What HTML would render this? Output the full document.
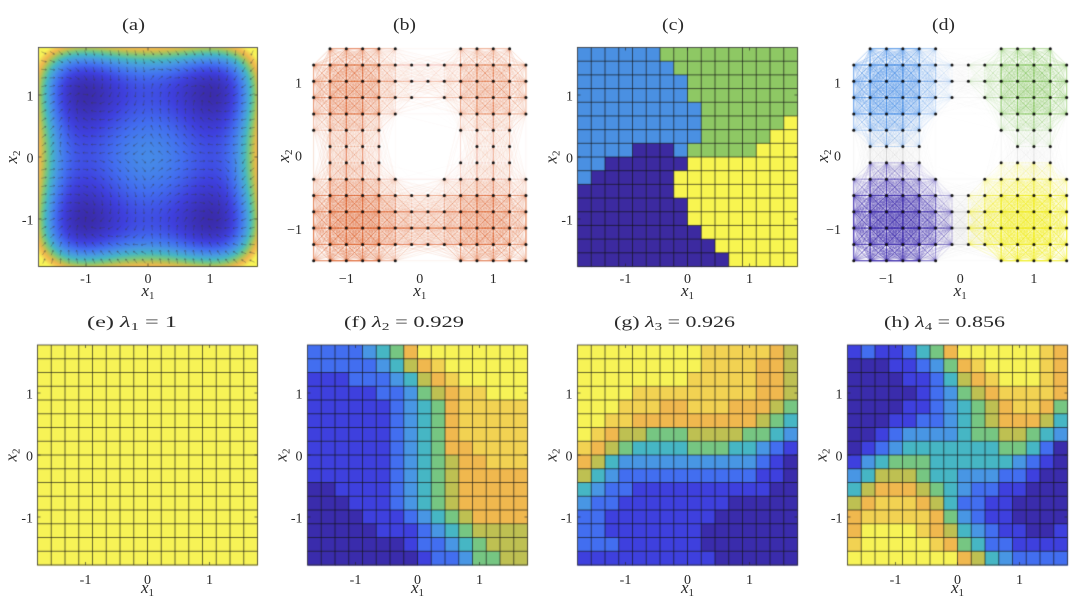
<!DOCTYPE html>
<html><head><meta charset="utf-8">
<style>
html,body{margin:0;padding:0;background:#fff;}
#wrap{position:relative;width:1080px;height:606px;overflow:hidden;background:#fff;}
canvas,svg{position:absolute;left:0;top:0;}
text{font-family:"Liberation Serif",serif;fill:#2a2a2a;}
</style></head><body>
<div id="wrap">
<canvas id="cv" width="1080" height="606"></canvas>
<svg width="1080" height="606" viewBox="0 0 1080 606">
<!-- top titles -->
<text x="122" y="30" font-size="17" textLength="23" lengthAdjust="spacingAndGlyphs">(a)</text>
<text x="393" y="30" font-size="17" textLength="23" lengthAdjust="spacingAndGlyphs">(b)</text>
<text x="662" y="30" font-size="17" textLength="22" lengthAdjust="spacingAndGlyphs">(c)</text>
<text x="932" y="30" font-size="17" textLength="23" lengthAdjust="spacingAndGlyphs">(d)</text>
<!-- bottom titles -->
<text x="87" y="327" font-size="16" textLength="90" lengthAdjust="spacingAndGlyphs">(e) <tspan font-style="italic">λ</tspan><tspan font-size="11" dy="3">1</tspan><tspan dy="-3"> = 1</tspan></text>
<text x="344" y="327" font-size="16" textLength="120" lengthAdjust="spacingAndGlyphs">(f) <tspan font-style="italic">λ</tspan><tspan font-size="11" dy="3">2</tspan><tspan dy="-3"> = 0.929</tspan></text>
<text x="614" y="327" font-size="16" textLength="121" lengthAdjust="spacingAndGlyphs">(g) <tspan font-style="italic">λ</tspan><tspan font-size="11" dy="3">3</tspan><tspan dy="-3"> = 0.926</tspan></text>
<text x="884" y="327" font-size="16" textLength="121" lengthAdjust="spacingAndGlyphs">(h) <tspan font-style="italic">λ</tspan><tspan font-size="11" dy="3">4</tspan><tspan dy="-3"> = 0.856</tspan></text>

<g font-size="14" text-anchor="middle">
<text x="86" y="283">-1</text><text x="148" y="283">0</text><text x="210" y="283">1</text>
<text x="346.3" y="283">−1</text><text x="419.8" y="283">0</text><text x="493.3" y="283">1</text>
<text x="625.5" y="283">-1</text><text x="687.5" y="283">0</text><text x="749.5" y="283">1</text>
<text x="886.5" y="283">−1</text><text x="960.2" y="283">0</text><text x="1033.9" y="283">1</text>
<text x="85.5" y="584">-1</text><text x="147.5" y="584">0</text><text x="209.5" y="584">1</text>
<text x="355.5" y="584">-1</text><text x="417.5" y="584">0</text><text x="479.5" y="584">1</text>
<text x="625.5" y="584">-1</text><text x="687.5" y="584">0</text><text x="749.5" y="584">1</text>
<text x="895.5" y="584">-1</text><text x="957.5" y="584">0</text><text x="1019.5" y="584">1</text>
</g>
<g font-size="14" text-anchor="end">
<text x="33.5" y="100.5">1</text><text x="33.5" y="162.5">0</text><text x="33.5" y="224.5">-1</text>
<text x="302" y="87.5">1</text><text x="302" y="160.5">0</text><text x="302" y="234">−1</text>
<text x="573" y="100.5">1</text><text x="573" y="162.5">0</text><text x="573" y="224.5">-1</text>
<text x="841" y="87.5">1</text><text x="841" y="160.5">0</text><text x="841" y="234">−1</text>
<text x="33" y="398.5">1</text><text x="33" y="460.5">0</text><text x="33" y="522.5">-1</text>
<text x="302.5" y="398.5">1</text><text x="302.5" y="460.5">0</text><text x="302.5" y="522.5">-1</text>
<text x="572.5" y="398.5">1</text><text x="572.5" y="460.5">0</text><text x="572.5" y="522.5">-1</text>
<text x="842.5" y="398.5">1</text><text x="842.5" y="460.5">0</text><text x="842.5" y="522.5">-1</text>
</g>
<g font-size="17" text-anchor="middle">
<text x="148" y="296"><tspan font-style="italic">x</tspan><tspan font-size="11" dy="3">1</tspan></text>
<text x="419.8" y="296"><tspan font-style="italic">x</tspan><tspan font-size="11" dy="3">1</tspan></text>
<text x="687.5" y="296"><tspan font-style="italic">x</tspan><tspan font-size="11" dy="3">1</tspan></text>
<text x="960.2" y="296"><tspan font-style="italic">x</tspan><tspan font-size="11" dy="3">1</tspan></text>
<text x="147.5" y="593"><tspan font-style="italic">x</tspan><tspan font-size="11" dy="3">1</tspan></text>
<text x="417.5" y="593"><tspan font-style="italic">x</tspan><tspan font-size="11" dy="3">1</tspan></text>
<text x="687.5" y="593"><tspan font-style="italic">x</tspan><tspan font-size="11" dy="3">1</tspan></text>
<text x="957.5" y="593"><tspan font-style="italic">x</tspan><tspan font-size="11" dy="3">1</tspan></text>
<text transform="translate(17,157) rotate(-90)"><tspan font-style="italic">x</tspan><tspan font-size="11" dy="3">2</tspan></text>
<text transform="translate(289,156) rotate(-90)"><tspan font-style="italic">x</tspan><tspan font-size="11" dy="3">2</tspan></text>
<text transform="translate(556.5,157) rotate(-90)"><tspan font-style="italic">x</tspan><tspan font-size="11" dy="3">2</tspan></text>
<text transform="translate(828,156) rotate(-90)"><tspan font-style="italic">x</tspan><tspan font-size="11" dy="3">2</tspan></text>
<text transform="translate(16.5,455) rotate(-90)"><tspan font-style="italic">x</tspan><tspan font-size="11" dy="3">2</tspan></text>
<text transform="translate(286.5,455) rotate(-90)"><tspan font-style="italic">x</tspan><tspan font-size="11" dy="3">2</tspan></text>
<text transform="translate(556.5,455) rotate(-90)"><tspan font-style="italic">x</tspan><tspan font-size="11" dy="3">2</tspan></text>
<text transform="translate(826.5,455) rotate(-90)"><tspan font-style="italic">x</tspan><tspan font-size="11" dy="3">2</tspan></text>
</g>
</svg>
</div>
<script>
(function(){
const cv=document.getElementById('cv');const ctx=cv.getContext('2d');
const P=[[58,44,172],[62,64,222],[66,110,240],[72,150,228],[70,182,196],[118,198,130],[190,192,82],[240,184,78],[242,210,82],[247,243,86]];
function col(t){t=Math.max(0,Math.min(9,t));const i=Math.min(8,Math.floor(t));const f=t-i;const a=P[i],b=P[i+1];return [a[0]+(b[0]-a[0])*f,a[1]+(b[1]-a[1])*f,a[2]+(b[2]-a[2])*f];}
function rgb(c){return 'rgb('+Math.round(c[0])+','+Math.round(c[1])+','+Math.round(c[2])+')';}

function ticks(x0,y0,w,h,cx,cy,u){
  ctx.strokeStyle='rgba(38,38,38,0.9)';ctx.lineWidth=0.7;ctx.beginPath();
  for(let k=-1;k<=1;k++){
    const tx=cx+k*u, ty=cy+k*u;
    ctx.moveTo(tx,y0+h);ctx.lineTo(tx,y0+h-3);
    ctx.moveTo(tx,y0);ctx.lineTo(tx,y0+3);
    ctx.moveTo(x0,ty);ctx.lineTo(x0+3,ty);
    ctx.moveTo(x0+w,ty);ctx.lineTo(x0+w-3,ty);
  }
  ctx.stroke();
  ctx.strokeStyle='rgba(38,38,38,0.95)';ctx.lineWidth=0.8;ctx.strokeRect(x0,y0,w,h);
}

function heat(x0,y0,w,h,data,cmap){
  const n=16,cw=w/n,ch=h/n;
  for(let r=0;r<n;r++)for(let c=0;c<n;c++){
    ctx.fillStyle=cmap(data[r][c]);
    ctx.fillRect(x0+c*cw,y0+r*ch,cw+0.6,ch+0.6);
  }
  ctx.strokeStyle='rgba(20,20,20,0.72)';ctx.lineWidth=0.9;ctx.beginPath();
  for(let k=1;k<n;k++){ctx.moveTo(x0+k*cw,y0);ctx.lineTo(x0+k*cw,y0+h);ctx.moveTo(x0,y0+k*ch);ctx.lineTo(x0+w,y0+k*ch);}
  ctx.stroke();
}
const digit=ch=>rgb(col(+ch));

(function(){
  const X0=39,Y0=48,W=219,H=219;const img=ctx.createImageData(W,H);
  for(let py=0;py<H;py++)for(let px=0;px<W;px++){
    const ux=(X0+px+0.5-148)/62, uy=(157-(Y0+py+0.5))/62;
    const V=(ux*ux-1)**2+(uy*uy-1)**2;
    const c=col(V*1.35);const o=(py*W+px)*4;
    img.data[o]=c[0];img.data[o+1]=c[1];img.data[o+2]=c[2];img.data[o+3]=255;
  }
  ctx.putImageData(img,X0,Y0);
  ctx.strokeStyle='rgba(60,60,66,0.45)';ctx.lineWidth=0.8;ctx.beginPath();
  const N=26;
  for(let a=0;a<N;a++)for(let b=0;b<N;b++){
    const ux=-1.68+3.36*a/(N-1), uy=-1.68+3.36*b/(N-1);
    const sx=ux<0?-1:1, sy=uy<0?-1:1;
    const rx=ux-sx, ry=uy-sy;
    let fx=ry-0.15*4*ux*(ux*ux-1), fy=-rx-0.15*4*uy*(uy*uy-1);
    const L=Math.hypot(fx,fy)||1;fx/=L;fy/=L;
    const px=148+ux*62, py=157-uy*62;
    const dx=fx*2.6, dy=-fy*2.6;
    const x1=px-dx,y1=py-dy,x2=px+dx,y2=py+dy;
    ctx.moveTo(x1,y1);ctx.lineTo(x2,y2);
    const hx=-dx*0.55, hy=-dy*0.55;
    ctx.moveTo(x2,y2);ctx.lineTo(x2+hx-hy*0.6,y2+hy+hx*0.6);
    ctx.moveTo(x2,y2);ctx.lineTo(x2+hx+hy*0.6,y2+hy-hx*0.6);
  }
  ctx.stroke();
  ticks(38.5,47.5,219,219,148,157,62);
})();

const Cdat=["BBBBBBGGGGGGGGGG","BBBBBBBGGGGGGGGG","BBBBBBBBGGGGGGGG","BBBBBBBBGGGGGGGG","BBBBBBBBBGGGGGGG","BBBBBBBBBGGGGGGY","BBBBBBBBBGGGGGYY","BBBBDDDBGGGGGYYY","BBDDDDDDYYYYYYYY","BDDDDDDYYYYYYYYY","DDDDDDDYYYYYYYYY","DDDDDDDDYYYYYYYY","DDDDDDDDYYYYYYYY","DDDDDDDDDYYYYYYY","DDDDDDDDDDYYYYYY","DDDDDDDDDDDYYYYY"];
const CC={B:'rgb(74,144,226)',G:'rgb(142,200,100)',D:'rgb(60,42,160)',Y:'rgb(248,245,80)'};
heat(577.5,47.5,220,219,Cdat,ch=>CC[ch]);
ticks(577.5,47.5,220,219,687.5,157,62);

const E=[];for(let i=0;i<16;i++)E.push("9999999999999999");
const F=["2222345799999999","2222234678999999","1112223467899999","1111122356788999","1111112345788888","1111112345788888","1111112345788888","1111112345778888","1111112345677888","1111112345677777","0011112345677777","0001112345677777","0000111234567777","0000011123456666","0000000122345666","0000000012235566"];
const G=["9999999998888876","9999999998888776","9999999988888776","9999888888888776","9998887788877765","9988777777777654","9876655566665543","8765444455544321","7643333333333210","6432222222222110","4322111111111100","3221111111100000","2211111111000000","2211111110000000","2221111110000000","1111111111000000"];
const H=["1211245799999987","0001123578999987","0000112467899987","0000012356788887","0000112345678875","0001122345677764","0012333345566543","0123444444455420","1345554444443210","3466654433322100","4677765432211000","6788876422110000","7888887532110000","7999987643211001","8999998754221111","9999999976432222"];
const bot=[[37.5,E],[307.5,F],[577.5,G],[847.5,H]];
for(const [x0,d] of bot){heat(x0,345,220,220,d,digit);ticks(x0,345,220,220,x0+110,455,62);}

const NR=[".#####...####.","##############","##############","#######.######","######...#####","#####....####.",".####.....###.",".####....####.","######..######","##############","##############","##############","##############","######...#####"];
const nodes=[];
for(let j=0;j<14;j++)for(let i=0;i<14;i++)if(NR[j][i]==='#')nodes.push({i:i,j:j,x:(2*i-13)/9,y:(13-2*j)/9});
function Dn(x,y){const sx=x<0?-1:1,sy=y<0?-1:1;const dw=Math.max(Math.abs(x-sx),Math.abs(y-sy));
  let v=Math.exp(-Math.pow(Math.max(0,dw-0.3),2)/0.08);
  v+=0.5*Math.exp(-(y+1)*(y+1)/0.12)*(Math.abs(x)<1.2?1:0);
  v+=0.12*Math.exp(-(y-1)*(y-1)/0.1);
  v+=0.35*Math.exp(-(x+1)*(x+1)/0.15)+0.2*Math.exp(-(x-1)*(x-1)/0.15);
  return Math.min(1,v);}
function mq(x,y){return 0.8875-0.1125*Math.tanh(3*x)-0.1125*Math.tanh(3*y);}
for(const n of nodes)n.d=Dn(n.x,n.y);
const edges=[];
for(let a=0;a<nodes.length;a++)for(let b=a+1;b<nodes.length;b++){
  const A=nodes[a],B=nodes[b];const d=Math.hypot(A.i-B.i,A.j-B.j);if(d>4.25)continue;
  const w=Math.sqrt(A.d*B.d)*mq((A.x+B.x)/2,(A.y+B.y)/2)*Math.exp(-d/4);
  if(w<0.01)continue;edges.push([A,B,w]);
}
function clus(n){if(n.y>0.05)return n.x<0?0:1;return n.x<0?2:3;}
const CL=[[70,140,228],[120,190,80],[58,40,170],[240,236,30]];
function graph(cx,cy,sp,spy,colorFn){
  ctx.lineWidth=0.7;
  const order=edges.slice().sort((p,q)=>(colorFn(p)[3]?1:0)-(colorFn(q)[3]?1:0));
  for(const e of order){
    const c=colorFn(e);
    ctx.strokeStyle='rgba('+c[0]+','+c[1]+','+c[2]+','+(Math.min(1,0.55*e[2]*c[4])).toFixed(3)+')';
    ctx.beginPath();
    ctx.moveTo(cx+(e[0].i-6.5)*sp,cy+(e[0].j-6.5)*spy);
    ctx.lineTo(cx+(e[1].i-6.5)*sp,cy+(e[1].j-6.5)*spy);
    ctx.stroke();
  }
  ctx.fillStyle='#111';
  for(const n of nodes){ctx.beginPath();ctx.arc(cx+(n.i-6.5)*sp,cy+(n.j-6.5)*spy,1.5,0,6.2832);ctx.fill();}
}
graph(419.8,154.7,16.33,16.31,e=>[217,83,25,1,1.15]);
graph(960.2,154.7,16.38,16.31,e=>{const a=clus(e[0]),b=clus(e[1]);if(a!==b)return [175,175,175,0,0.8];const c=CL[a];return [c[0],c[1],c[2],1,a===3?2.2:1.8];});
})();
</script>
</body></html>
